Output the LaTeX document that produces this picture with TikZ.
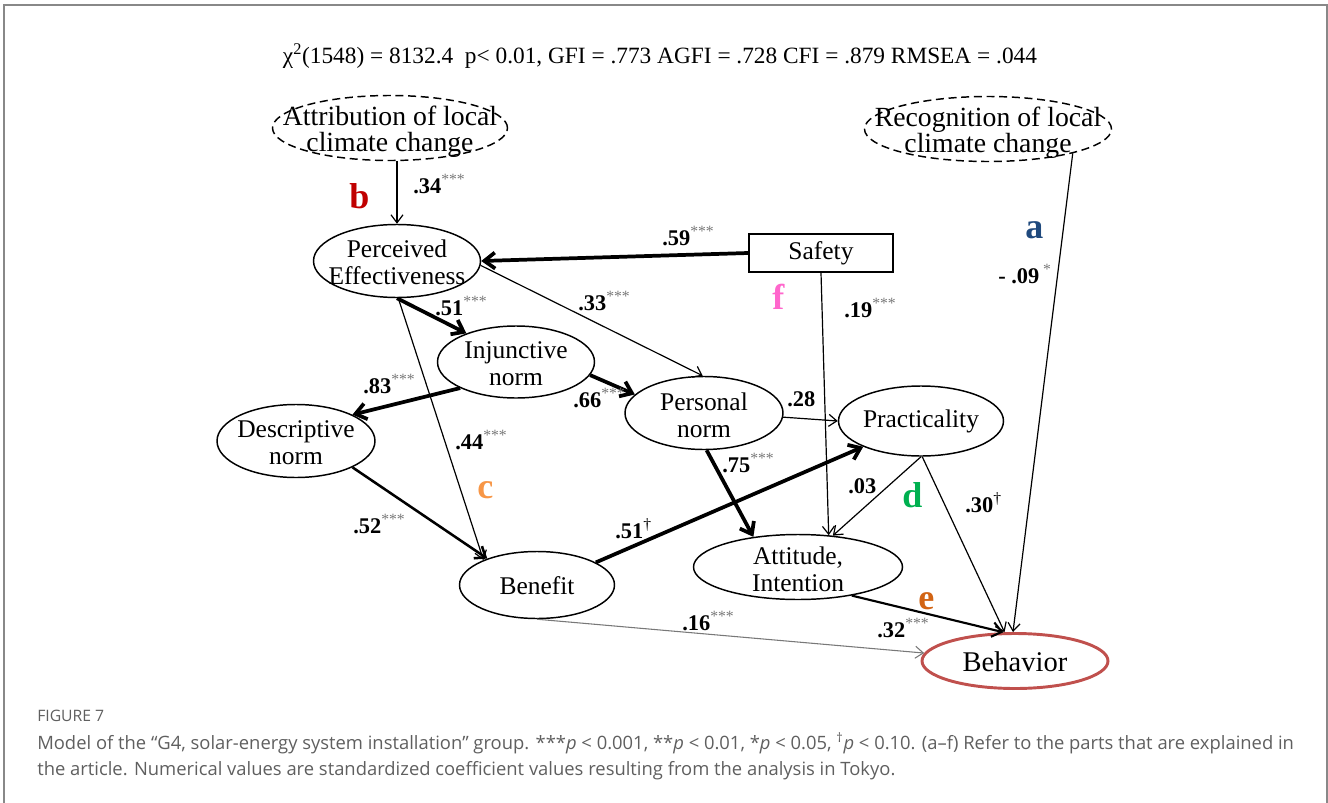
\documentclass[tikz,border=0pt]{standalone}
\usepackage{fontspec}
\setmainfont{Liberation Serif}
\newfontfamily\capfont{Open Sans}
\usetikzlibrary{arrows.meta,shapes.geometric}
\definecolor{stargray}{RGB}{120,120,120}
\definecolor{framegray}{RGB}{136,136,136}
\definecolor{capgray}{RGB}{95,95,95}
\definecolor{la}{RGB}{31,73,125}
\definecolor{lbc}{RGB}{192,0,0}
\definecolor{lc}{RGB}{247,150,70}
\definecolor{ld}{RGB}{0,176,80}
\definecolor{le}{RGB}{210,100,20}
\definecolor{lf}{RGB}{255,102,204}
\definecolor{behred}{RGB}{192,80,77}
\newcommand\cf[2]{\textbf{#1}\textsuperscript{\textcolor{stargray}{#2}}}
\newcommand\nodefont{\fontsize{19.1}{20.3}\selectfont}
\tikzset{
  ell/.style={ellipse, draw, line width=1.1pt, inner sep=0pt},
  ntext/.style={align=center, font=\nodefont, inner sep=0pt},
  lab/.style={anchor=base west, inner sep=0pt, font=\fontsize{16.8}{18}\selectfont},
  letter/.style={anchor=base west, inner sep=0pt, font=\fontsize{27}{28}\selectfont\bfseries},
  thinarr/.style={line width=0.9pt, -{Straight Barb[length=6pt,width=9pt]}},
  medarr/.style={line width=1.9pt, -{Straight Barb[length=7pt,width=11pt]}},
  thickarr/.style={line width=2.8pt, -{Straight Barb[length=8pt,width=12pt]}},
  captext/.style={anchor=base west, inner sep=0pt, text=capgray},
}
\begin{document}
\begin{tikzpicture}[x=0.75pt,y=-0.75pt]
\useasboundingbox (0,0) rectangle (1328,803);
\draw[framegray, line width=1.5pt] (4,806) -- (4,5) -- (1326.5,5) -- (1326.5,806);

\node[font=\fontsize{17.5}{20}\selectfont, inner sep=0pt] (hdr) at (660,56) {χ\textsuperscript{2}(1548) = 8132.4\hspace{0.5em}p< 0.01, GFI = .773 AGFI = .728 CFI = .879 RMSEA = .044};

% ellipses
\node[ell, dashed, dash pattern=on 6pt off 3.5pt, minimum width=176.25pt, minimum height=48.75pt] (att) at (390,128) {};
\node[ntext, font=\fontsize{20.8}{19.5}\selectfont] (att-t) at (390,132) {Attribution of local\\climate change};
\node[ell, dashed, dash pattern=on 6pt off 3.5pt, minimum width=185.25pt, minimum height=48.75pt] (rec) at (988,129) {};
\node[ntext, font=\fontsize{20.8}{19.5}\selectfont] (rec-t) at (988,133) {Recognition of local\\climate change};
\node[ell, minimum width=125.25pt, minimum height=54.75pt] (pe) at (397,261) {};
\node[ntext] (pe-t) at (397,262) {Perceived\\Effectiveness};
\node[ell, minimum width=117.75pt, minimum height=54pt] (inj) at (516,362) {};
\node[ntext] (inj-t) at (516,364) {Injunctive\\norm};
\node[ell, minimum width=118.5pt, minimum height=54.75pt] (desc) at (296,441) {};
\node[ntext] (desc-t) at (296,443) {Descriptive\\norm};
\node[ell, minimum width=118.5pt, minimum height=54.75pt] (pn) at (704,413) {};
\node[ntext] (pn-t) at (704,415) {Personal\\norm};
\node[ell, minimum width=123.75pt, minimum height=52.5pt] (prac) at (921,421) {};
\node[ntext] (prac-t) at (921,421) {Practicality};
\node[ell, minimum width=156.75pt, minimum height=48.75pt] (atti) at (798,567) {};
\node[ntext] (atti-t) at (798,569) {Attitude,\\Intention};
\node[ell, minimum width=116.25pt, minimum height=50.25pt] (ben) at (537,585) {};
\node[ntext] (ben-t) at (537,586) {Benefit};
\node[ell, draw=behred, line width=2.2pt, minimum width=139.5pt, minimum height=41.25pt] (beh) at (1015,661) {};
\node[ntext, font=\fontsize{21.4}{22}\selectfont] (beh-t) at (1015,662) {Behavior};
\node[draw, line width=1.1pt, minimum width=108pt, minimum height=28.5pt, inner sep=0pt, font=\nodefont] (saf) at (821,253) {Safety};

% connectors
\draw[thinarr] (att.south -| pe.north) -- (pe.north);
\draw[thickarr] (saf.west) -- (pe.east);
\draw[thinarr] (pe.-3) -- (pn.92);
\draw[thickarr] (pe.south) -- (inj.150);
\draw[thinarr] (pe.-88) -- (ben.155);
\draw[thickarr] (inj.205) -- (desc.25);
\draw[thickarr] (inj.-10) -- (pn.165);
\draw[medarr] (desc.-25) -- (ben.152);
\draw[thinarr] (pn.-3) -- (prac.west);
\draw[thickarr] (pn.-86) -- (atti.146);
\draw[thickarr] (ben.21) -- (prac.204);
\draw[thinarr] (saf.south) -- (atti.46);
\draw[thinarr] (prac.-90) -- (atti.42);
\draw[thinarr] (prac.-88) -- (beh.110);
\draw[thinarr] (rec.-16) -- (beh.94);
\draw[medarr, line width=1.6pt] (atti.-28) -- (beh.112);
\draw[thinarr, draw=stargray, line width=0.8pt] (ben.-90) -- (beh.175);

% coefficient labels
\node[lab] (l34) at (413,193) {\cf{.34}{***}};
\node[lab] (l59) at (662,245) {\cf{.59}{***}};
\node[lab] (l33) at (578,310) {\cf{.33}{***}};
\node[lab] (l51) at (435,315) {\cf{.51}{***}};
\node[lab] (l83) at (363,393) {\cf{.83}{***}};
\node[lab] (l44) at (455,449) {\cf{.44}{***}};
\node[lab] (l52) at (353,533) {\cf{.52}{***}};
\node[lab] (l66) at (573,407) {\cf{.66}{***}};
\node[lab] (l28) at (787,406) {\textbf{.28}};
\node[lab] (l75) at (722,472) {\cf{.75}{***}};
\node[lab] (l03) at (848,493) {\textbf{.03}};
\node[lab] (l30) at (965,512) {\textbf{.30}\textsuperscript{†}};
\node[lab] (l51b) at (615,538) {\textbf{.51}\textsuperscript{†}};
\node[lab] (l32) at (877,637) {\cf{.32}{***}};
\node[lab] (l16) at (682,630) {\cf{.16}{***}};
\node[lab] (l19) at (844,317) {\cf{.19}{***}};
\node[lab] (l09) at (998,283) {\textbf{- .09}\,\textsuperscript{\textcolor{stargray}{*}}};

% part letters
\node[letter, text=lbc] (pb) at (349,208) {b};
\node[letter, text=la] (pa) at (1025,238) {a};
\node[letter, text=lf] (pf) at (772,309) {f};
\node[letter, text=lc] (pc) at (477,498) {c};
\node[letter, text=ld] (pd) at (902,507) {d};
\node[letter, text=le] (pe2) at (918,609) {e};

% caption
\node[captext, font=\capfont\fontsize{11.8}{13}\selectfont] (fig) at (37,721) {FIGURE 7};
\node[captext, font=\capfont\fontsize{13.8}{15}\selectfont] (cap1) at (37,749) {Model of the “G4, solar-energy system installation” group. ***\textit{p} < 0.001, **\textit{p} < 0.01, *\textit{p} < 0.05, \textsuperscript{†}\textit{p} < 0.10. (a–f) Refer to the parts that are explained in};
\node[captext, font=\capfont\fontsize{13.8}{15}\selectfont] (cap2) at (37,775) {the article. Numerical values are standardized coefficient values resulting from the analysis in Tokyo.};
\end{tikzpicture}
\end{document}
